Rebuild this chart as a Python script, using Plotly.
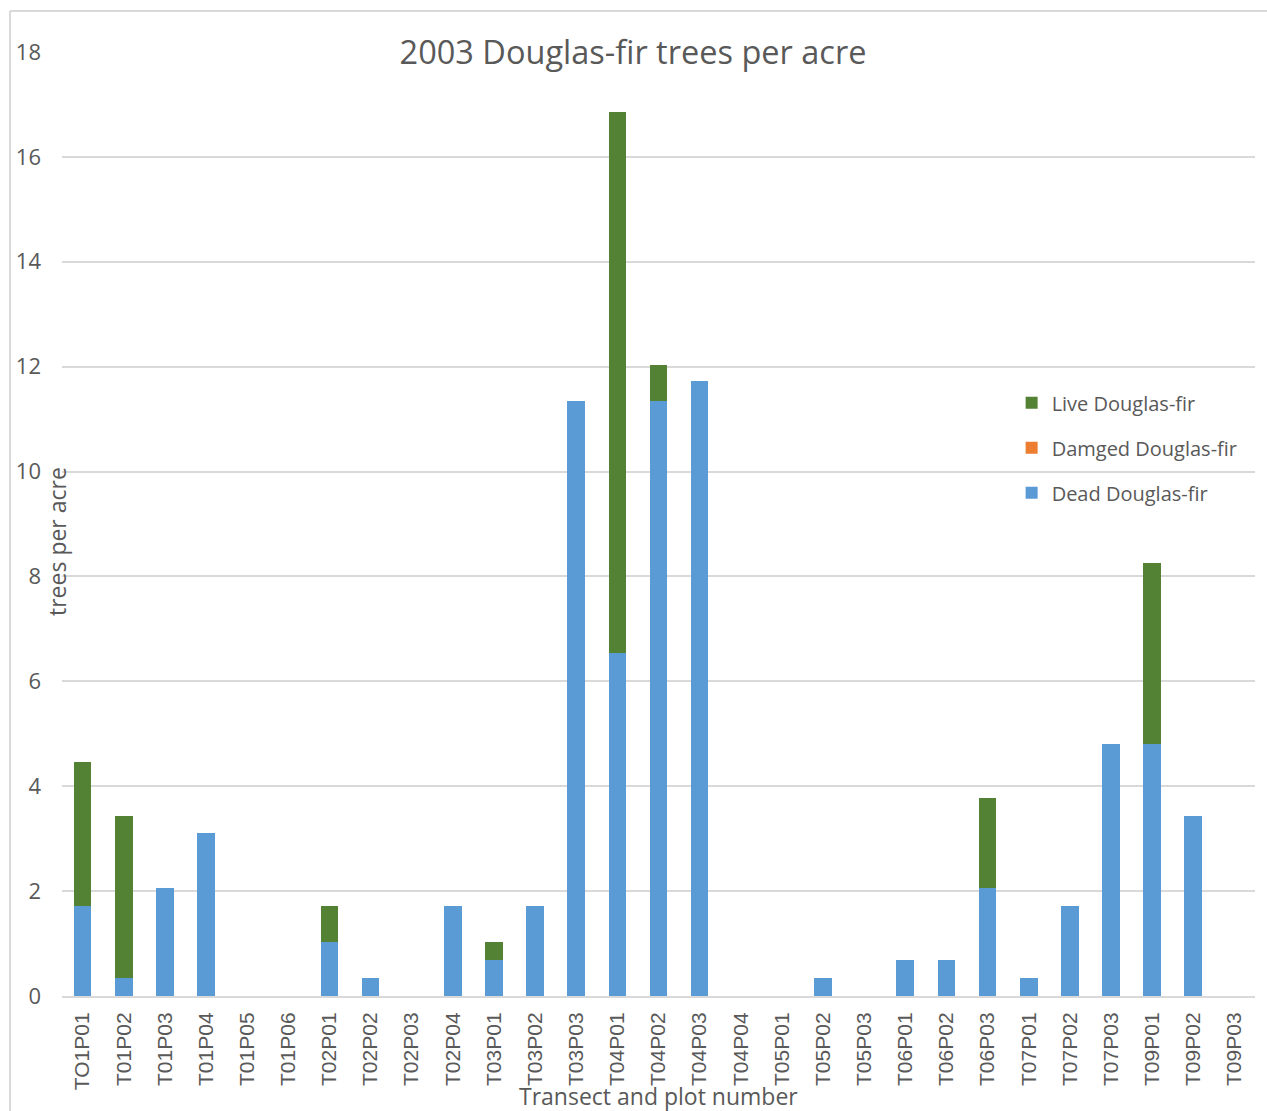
import plotly.graph_objects as go

plots = ["TO1P01", "T01P02", "T01P03", "T01P04", "T01P05", "T01P06",
         "T02P01", "T02P02", "T02P03", "T02P04", "T03P01", "T03P02",
         "T03P03", "T04P01", "T04P02", "T04P03", "T04P04", "T05P01",
         "T05P02", "T05P03", "T06P01", "T06P02", "T06P03", "T07P01",
         "T07P02", "T07P03", "T09P01", "T09P02", "T09P03"]

dead = [1.72, 0.34, 2.06, 3.10, 0, 0, 1.03, 0.34, 0, 1.72, 0.69, 1.72,
        11.35, 6.54, 11.35, 11.72, 0, 0, 0.34, 0, 0.69, 0.69, 2.06, 0.34,
        1.72, 4.81, 4.81, 3.44, 0]
damaged = [0] * 29
live = [2.75, 3.10, 0, 0, 0, 0, 0.69, 0, 0, 0, 0.34, 0,
        0, 10.32, 0.69, 0, 0, 0, 0, 0, 0, 0, 1.72, 0,
        0, 0, 3.44, 0, 0]

TXT = "#595959"
GRID = "#d9d9d9"

fig = go.Figure()
fig.add_trace(go.Bar(x=plots, y=dead, name="Dead Douglas-fir", legendgroup="dead", legendrank=3,
                     marker=dict(color="#5B9BD5", line_width=0)))
fig.add_trace(go.Bar(x=plots, y=damaged, name="Damged Douglas-fir", legendgroup="dmg", legendrank=2,
                     marker=dict(color="#ED7D31", line_width=0)))
fig.add_trace(go.Bar(x=plots, y=live, name="Live Douglas-fir", legendgroup="live", legendrank=1,
                     marker=dict(color="#548235", line_width=0)))

fig.update_layout(
    barmode="stack",
    bargap=0.57,
    width=1267, height=1111,
    margin=dict(l=62, r=12, t=52, b=115, autoexpand=False),
    paper_bgcolor="white", plot_bgcolor="white",
    font=dict(family="Open Sans", color=TXT),
    title=dict(text="2003 Douglas-fir trees per acre", x=0.4996, xanchor="center",
               y=1 - 53 / 1111, yanchor="middle", font=dict(size=32.5, color=TXT)),
    legend=dict(x=0.796, xanchor="left", y=0.649, yanchor="top",
                traceorder="grouped", tracegroupgap=16, itemwidth=30,
                font=dict(size=20, color=TXT), bgcolor="rgba(0,0,0,0)"),
)
fig.update_yaxes(range=[0, 18], dtick=2, showgrid=True, gridcolor=GRID, gridwidth=2,
                 zeroline=False, showline=False, ticklabelstandoff=20,
                 tickfont=dict(size=22, color=TXT))
fig.update_xaxes(showline=True, linecolor=GRID, linewidth=2, tickangle=-90,
                 ticklabelstandoff=6, tickfont=dict(family="Liberation Sans", size=21, color=TXT))

fig.add_annotation(text="trees per acre", xref="paper", yref="paper", x=-0.0042, y=0.482,
                   textangle=-90, showarrow=False, xanchor="center", yanchor="middle",
                   font=dict(size=23, color=TXT))
fig.add_annotation(text="Transect and plot number", xref="paper", yref="paper", x=0.5,
                   y=(996 - 1096) / 944, showarrow=False, xanchor="center", yanchor="middle",
                   font=dict(size=23, color=TXT))

# chart border (left and top edges visible in the crop)
fig.add_shape(type="line", xref="paper", yref="paper", x0=-0.0436, x1=-0.0436, y0=1.0434, y1=-0.13,
              line=dict(color=GRID, width=2))
fig.add_shape(type="line", xref="paper", yref="paper", x0=-0.0436, x1=1.02, y0=1.0434, y1=1.0434,
              line=dict(color=GRID, width=2))

# drop the page's default body margin so the figure starts at the top-left corner
fig.write_html("out.html", config={"displayModeBar": False},
               post_script="document.body.style.margin='0';")
